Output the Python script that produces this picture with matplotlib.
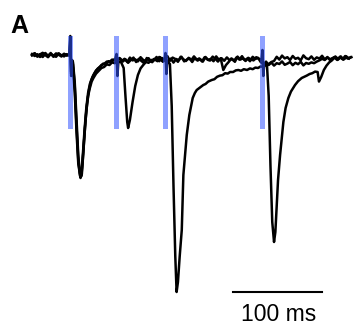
import numpy as np
import matplotlib
matplotlib.use('Agg')
import matplotlib.pyplot as plt

# whole-cell current traces (ms, pA), three sweeps: pulse 1 + one later pulse
t1 = [0, 3, 6, 9, 12, 15, 18, 21, 24, 27,
      30, 33, 36, 39, 42, 43, 44, 45, 46, 48,
      50, 52, 54, 55.5, 57, 59, 61, 63, 65, 67,
      69, 72, 75, 78, 81, 84, 87, 90, 93, 95,
      96, 97, 100, 103, 105, 107, 108, 110, 113, 116,
      119, 122, 125, 128, 131, 134, 137, 140, 143, 146,
      149, 152, 155, 158, 161, 164, 167, 170, 173, 176,
      179, 182, 185, 188, 191, 194, 197, 200, 203, 206,
      209, 212, 215, 218, 221, 224, 227, 230, 233, 236,
      239, 242, 245, 248, 251, 254, 257, 260, 263, 266,
      269, 272, 275, 278, 281, 284, 287, 290, 293, 296,
      299, 302, 305, 308, 311, 314, 317, 320, 323, 326,
      329, 332, 335, 338, 341, 344, 347, 350, 353, 356]
i1 = [5, 14, -2, 9, -5, 11, 1, 15, -4, 7,
      13, -1, 10, 2, 8, 80, -90, -30, -40, -150,
      -350, -520, -600, -590, -500, -370, -260, -185, -140, -115,
      -95, -72, -60, -45, -40, -28, -30, -18, -22, 10,
      -100, -30, -30, -60, -200, -330, -360, -320, -230, -150,
      -95, -62, -45, -30, -34, -20, -20, -5, -26, -10,
      -18, 0, -24, -8, -15, -29, -4, -16, -25, -9,
      -21, -2, -19, -12, -27, -6, -17, -23, -3, -14,
      -28, -11, -70, -45, -30, -12, -24, -6, -18, -1,
      -20, -13, -26, -4, -15, -9, -30, -42, -28, -45,
      -33, -48, -36, -40, -27, -44, -38, -30, -46, -34,
      -41, -29, -47, -35, -39, -32, -36, -28, -22, -14,
      -20, -8, -16, -11, -4, -18, -2, -17, -9, -13]

t2 = [0, 3, 6, 9, 12, 15, 18, 21, 24, 27,
      30, 33, 36, 39, 42, 43, 44, 45, 46, 48,
      50, 52, 54.5, 56, 58, 60, 62, 64, 66, 68,
      71, 74, 77, 80, 83, 86, 89, 92, 95, 98,
      101, 104, 107, 110, 113, 116, 119, 122, 125, 128,
      131, 134, 137, 140, 143, 146, 149, 150, 151, 152,
      155, 157, 159, 161, 162.5, 164, 166, 168.3, 170.1, 172,
      173.9, 176.8, 180.6, 183, 185.1, 188, 192.5, 195, 198, 202,
      205, 208, 211.3, 214, 217, 220, 222.6, 226, 229, 231.9,
      235, 238, 241.7, 245, 248, 251, 254, 257, 260, 263,
      266, 269, 272, 275, 278, 281, 284, 287, 290, 293,
      296, 299, 302, 305, 308, 311, 314, 317, 320, 323,
      326, 329, 332, 335, 338, 341, 344, 347, 350, 353,
      356, 359]
i2 = [10, 0, 9, -5, 6, 15, -1, 10, 3, -4,
      12, 4, -2, 9, 1, 60, -100, -30, -60, -180,
      -380, -540, -610, -590, -460, -330, -235, -170, -130, -105,
      -80, -62, -52, -38, -40, -26, -30, -18, -28, -10,
      -24, -14, -30, -8, -22, -17, -27, -6, -20, -25,
      -11, -29, -15, -21, -5, -24, -16, 15, -90, -25,
      -40, -250, -650, -1000, -1180, -1130, -1000, -870, -595, -495,
      -395, -295, -210, -185, -170, -160, -145, -140, -128, -120,
      -116, -104, -98, -96, -86, -88, -80, -80, -72, -70,
      -74, -66, -70, -62, -66, -58, -60, -52, -55, -44,
      -40, -30, -25, -4, -18, 2, -12, -6, -20, 0,
      -14, -9, -22, 3, -11, -16, -2, -19, -7, -13,
      1, -17, -5, -21, -10, -3, -15, -8, -18, -1,
      -12, -6]

t3 = [0, 3, 6, 9, 12, 15, 18, 21, 24, 27,
      30, 33, 36, 39, 42, 43, 44, 45, 46, 48,
      50, 52, 54, 55.5, 57, 59, 61, 63, 65, 67,
      69, 72, 75, 78, 81, 84, 87, 90, 93, 96,
      99, 102, 105, 108, 111, 114, 117, 120, 123, 126,
      129, 132, 135, 138, 141, 144, 147, 150, 153, 156,
      159, 162, 165, 168, 171, 174, 177, 180, 183, 186,
      189, 192, 195, 198, 201, 204, 207, 210, 213, 216,
      219, 222, 225, 228, 231, 234, 237, 240, 243, 246,
      249, 252, 255, 258, 259, 260, 261, 264, 266, 268,
      270, 272, 273.5, 276.5, 278.8, 280.5, 282.5, 285, 288.1, 291,
      295.6, 299, 303.1, 306, 308.8, 312, 315, 318.1, 321, 322.5,
      325, 328, 331, 334, 337, 340, 343, 346, 349, 352,
      355, 358]
i3 = [3, 13, -3, 8, 16, 4, -6, 10, 0, 13,
      6, -2, 11, 4, 9, 100, -80, -20, -30, -130,
      -320, -500, -590, -600, -520, -390, -275, -200, -160, -128,
      -110, -88, -74, -60, -55, -42, -45, -32, -36, -25,
      -12, -28, -16, -34, -20, -8, -30, -14, -25, -36,
      -10, -22, -31, -17, -26, -6, -29, -19, -24, -13,
      -33, -15, -21, -4, -27, -18, -12, -30, -9, -23,
      -16, -28, -5, -20, -14, -26, -2, -19, -11, -24,
      -7, -21, -15, -29, -3, -18, -12, -25, -9, -17,
      -22, -6, -14, -18, 30, -100, -40, -40, -200, -550,
      -830, -930, -880, -620, -495, -420, -330, -260, -210, -178,
      -145, -126, -110, -104, -98, -90, -86, -78, -80, -128,
      -105, -70, -48, -32, -22, -8, -20, -4, -16, 0,
      -12, -6]

stim_times = [43, 95, 150, 259]   # light pulses (ms)
stim_w = 5.3
stim_lo, stim_hi = -365, 100

fig = plt.figure(figsize=(3.59, 3.30), dpi=100)
ax = fig.add_axes([0, 0, 1, 1])

for t, i in [(t1, i1), (t2, i2), (t3, i3)]:
    ax.plot(t, i, color='black', lw=1.8, solid_joinstyle='round')

ax.bar(stim_times, stim_hi - stim_lo, width=stim_w, bottom=stim_lo,
       color='#3355ff', alpha=0.55, zorder=3, linewidth=0)

# 100 ms scale bar
ax.plot([226, 326], [-1180, -1180], color='black', lw=1.5)
ax.text(277, -1325, '100 ms', ha='center', va='baseline',
        fontsize=16.5, family='Liberation Sans')

ax.set_xlim(-36, 367.5)
ax.set_ylim(-1370, 280)
ax.axis('off')

fig.text(0.028, 0.9, 'A', fontsize=18, fontweight='bold',
         family='Liberation Sans', va='baseline', ha='left')

fig.savefig('out.png', dpi=100)
